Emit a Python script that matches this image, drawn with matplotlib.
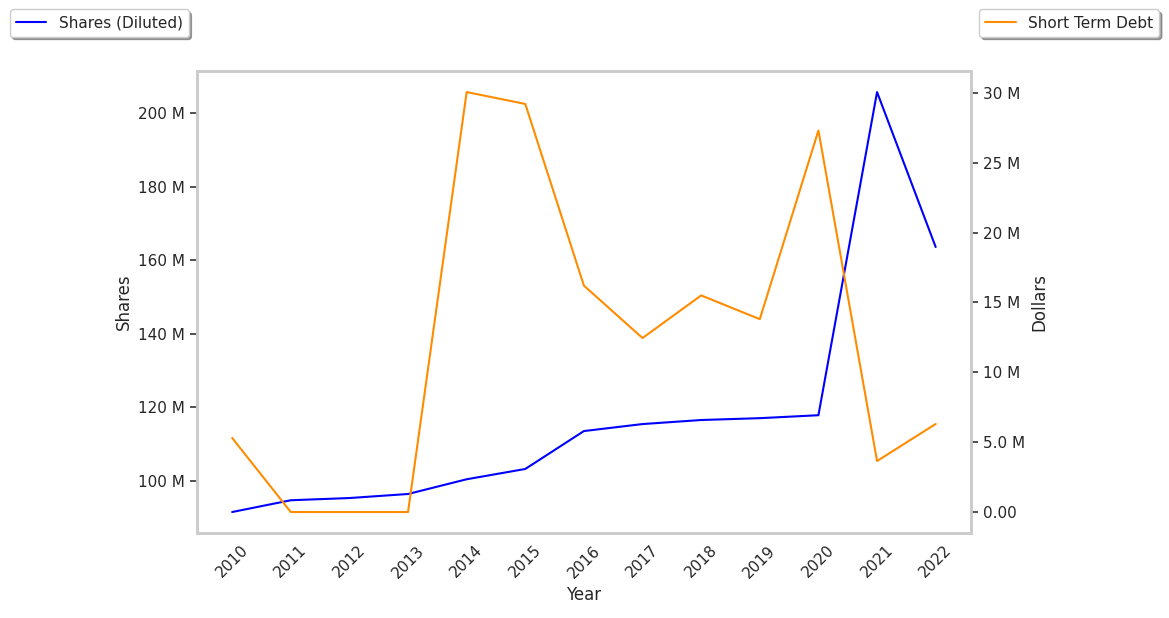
import matplotlib
matplotlib.use('Agg')
import matplotlib.pyplot as plt
import seaborn as sns
from matplotlib.ticker import FuncFormatter

years = [2010, 2011, 2012, 2013, 2014, 2015, 2016, 2017, 2018, 2019, 2020, 2021, 2022]
shares_m = [91.6, 94.8, 95.4, 96.5, 100.5, 103.3, 113.6, 115.5, 116.6, 117.1, 117.9, 205.7, 163.6]
debt_m = [5.3, 0.0, 0.0, 0.0, 30.05, 29.2, 16.2, 12.45, 15.5, 13.8, 27.3, 3.65, 6.3]

shares = [v * 1e6 for v in shares_m]
debt = [v * 1e6 for v in debt_m]

sns.set_style('white')
plt.rcParams['font.family'] = ['DejaVu Sans']


def fmt_left(v, pos):
    return f"{v / 1e6:.0f} M"


def fmt_right(v, pos):
    if v == 0:
        return "0.00"
    m = v / 1e6
    if abs(m) < 10:
        return f"{m:.1f} M"
    return f"{m:.0f} M"


fig = plt.figure(figsize=(11.69, 6.18), dpi=100)
ax = fig.add_axes([0.1685, 0.1375, 0.662, 0.7475])
ax2 = ax.twinx()

l1, = ax.plot(years, shares, color='blue', label='Shares (Diluted)')
l2, = ax2.plot(years, debt, color='darkorange', label='Short Term Debt')

ax.set_xticks(years)
ax.set_xticklabels([str(y) for y in years], rotation=45, fontsize=11)
ax.yaxis.set_major_formatter(FuncFormatter(fmt_left))
ax2.yaxis.set_major_formatter(FuncFormatter(fmt_right))
ax.tick_params(axis='y', labelsize=11, left=True, length=5, width=1.2, color='#333333')
ax.tick_params(axis='x', bottom=False)
ax2.tick_params(axis='y', labelsize=11, right=True, length=5, width=1.2, color='#333333')
ax.set_xlabel('Year', fontsize=12)
ax.set_ylabel('Shares', fontsize=12)
ax2.set_ylabel('Dollars', fontsize=12)

for a in (ax, ax2):
    for s in a.spines.values():
        s.set_color('#cccccc')
        s.set_linewidth(2)

fig.legend(handles=[l1], loc='upper left', bbox_to_anchor=(0.0017, 0.997), shadow=True, fontsize=11)
fig.legend(handles=[l2], loc='upper right', bbox_to_anchor=(0.998, 0.997), shadow=True, fontsize=11)

fig.savefig('out.png', dpi=100)
